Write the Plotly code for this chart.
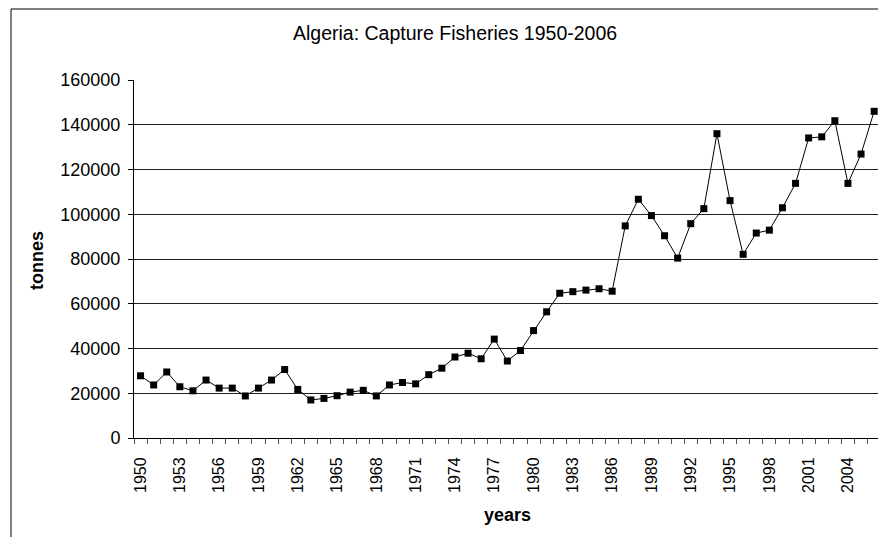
import plotly.graph_objects as go

years = list(range(1950, 2007))
tonnes = [
    27800, 23700, 29500, 22900, 21100, 25900, 22300, 22300, 18800, 22300,
    25900, 30600, 21700, 17000, 17700, 18900, 20500, 21300, 18800, 23700,
    24800, 24200, 28300, 31200, 36200, 37900, 35400, 44200, 34400, 39100,
    48000, 56400, 64700, 65400, 66100, 66700, 65600, 94800, 106700, 99400,
    90400, 80400, 95800, 102500, 136000, 106100, 82100, 91600, 92900, 102900,
    113800, 134100, 134600, 141800, 113800, 126900, 146000,
]
x_tick_years = list(range(1950, 2006, 3))
y_ticks = list(range(0, 160001, 20000))

title_text = "Algeria: Capture Fisheries 1950-2006"
x_title = "years"
y_title = "tonnes"

W, H = 878, 537
L, T = 134, 80
plot_right, plot_bottom = W, 438
R, B = W - plot_right, H - plot_bottom
pw = plot_right - L
ph = plot_bottom - T
cat_w = 13.1  # pixels per year in the reference

def px_x(p):
    return (p - L) / pw

def px_y(p):
    return (plot_bottom - p) / ph

fig = go.Figure()
fig.add_trace(go.Scatter(
    x=years, y=tonnes, mode="lines+markers",
    line=dict(color="black", width=1),
    marker=dict(symbol="square", size=7, color="black"),
    showlegend=False, cliponaxis=False, hoverinfo="skip",
))

font_family = "Liberation Sans, Arial, sans-serif"

fig.update_layout(
    width=W, height=H,
    margin=dict(l=L, r=R, t=T, b=B, autoexpand=False),
    paper_bgcolor="white", plot_bgcolor="white",
    hovermode=False,
    font=dict(family=font_family, size=18, color="black"),
    xaxis=dict(
        range=[years[0] - 0.5, years[0] - 0.5 + pw / cat_w],
        tickmode="array", tickvals=x_tick_years,
        ticktext=[str(v) for v in x_tick_years],
        tickangle=-90, ticks="outside", ticklen=12,
        tickcolor="rgba(0,0,0,0)",
        tickfont=dict(size=16),
        showgrid=False, zeroline=False,
        showline=True, linecolor="black", linewidth=1,
        minor=dict(tickmode="linear", tick0=years[0] - 0.5, dtick=1,
                   ticks="outside", ticklen=5, tickcolor="#555",
                   showgrid=False),
    ),
    yaxis=dict(
        range=[0, 160000],
        tickmode="array", tickvals=y_ticks,
        ticktext=[str(v) for v in y_ticks],
        ticks="outside", ticklen=5, tickcolor="black",
        tickfont=dict(size=18),
        ticklabelstandoff=4,
        showgrid=True, gridcolor="#222", gridwidth=1,
        zeroline=False,
        showline=True, linecolor="black", linewidth=1,
    ),
    shapes=[
        dict(type="rect", xref="paper", yref="paper",
             x0=px_x(11), x1=px_x(W + 40), y0=px_y(H + 40), y1=px_y(9),
             line=dict(color="black", width=1), fillcolor="rgba(0,0,0,0)",
             layer="below"),
    ],
    annotations=[
        dict(text=title_text, xref="paper", yref="paper",
             x=px_x(455), y=px_y(33), xanchor="center", yanchor="middle",
             showarrow=False, font=dict(size=19.5)),
        dict(text="<b>" + x_title + "</b>", xref="paper", yref="paper",
             x=px_x(507), y=px_y(515), xanchor="center", yanchor="middle",
             showarrow=False, font=dict(size=18)),
        dict(text="<b>" + y_title + "</b>", xref="paper", yref="paper",
             x=px_x(37), y=px_y(261), xanchor="center", yanchor="middle",
             textangle=-90, showarrow=False, font=dict(size=18)),
    ],
)

fig.write_html(
    "out.html",
    config={"displayModeBar": False, "staticPlot": True},
    post_script="document.body.style.margin='0px';",
)
